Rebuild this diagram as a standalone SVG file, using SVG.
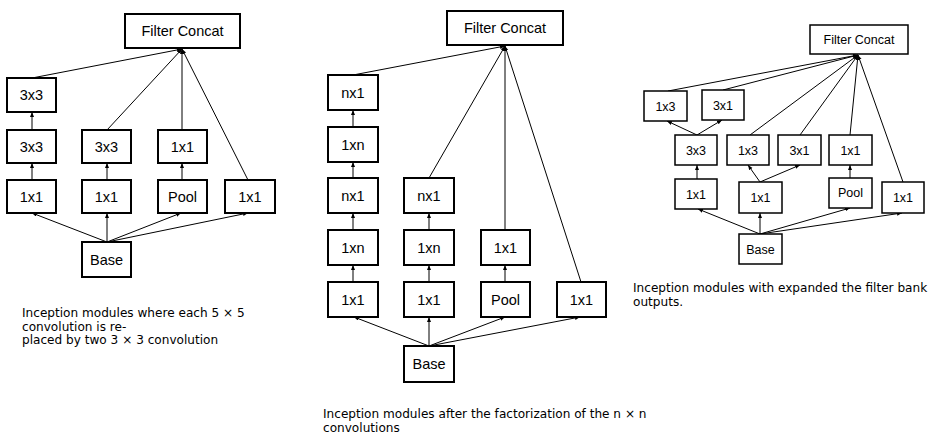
<svg xmlns="http://www.w3.org/2000/svg" width="937" height="447" viewBox="0 0 937 447">
<defs>
<marker id="ah" markerUnits="userSpaceOnUse" markerWidth="8" markerHeight="8" refX="5" refY="2" orient="auto">
<path d="M0,0 L5,2 L0,4 Z" fill="#000"/>
</marker>
<style>
.bx{fill:#fff;stroke:#000;stroke-width:2}
.bs{fill:#fff;stroke:#000;stroke-width:1.5}
.t{font-family:"Liberation Sans",Arial,sans-serif;font-size:14.5px;text-anchor:middle;fill:#000}
.ts{font-family:"Liberation Sans",Arial,sans-serif;font-size:12.5px;text-anchor:middle;fill:#000}
.cap{font-family:"DejaVu Sans",Verdana,sans-serif;font-size:12.1px;fill:#000}
.c line{stroke:#000;stroke-width:1;marker-end:url(#ah)}
</style>
</defs>
<rect width="937" height="447" fill="#fff"/>

<!-- connectors -->
<g id="connectors" class="c">
<!-- left -->
<line x1="32" y1="78" x2="182" y2="49"/>
<line x1="107" y1="130" x2="182" y2="49"/>
<line x1="182" y1="130" x2="182" y2="49"/>
<line x1="248" y1="180" x2="182" y2="49"/>
<line x1="32" y1="130" x2="32" y2="112"/>
<line x1="32" y1="180" x2="32" y2="163"/>
<line x1="107" y1="180" x2="107" y2="163"/>
<line x1="182" y1="180" x2="182" y2="163"/>
<line x1="107" y1="242" x2="32" y2="213"/>
<line x1="107" y1="242" x2="107" y2="213"/>
<line x1="107" y1="242" x2="181" y2="213"/>
<line x1="107" y1="242" x2="248" y2="213"/>
<!-- middle -->
<line x1="353" y1="75" x2="505" y2="46"/>
<line x1="429" y1="178" x2="505" y2="46"/>
<line x1="505" y1="230" x2="505" y2="46"/>
<line x1="581" y1="282" x2="505" y2="46"/>
<line x1="353" y1="127" x2="353" y2="110"/>
<line x1="353" y1="178" x2="353" y2="162"/>
<line x1="353" y1="230" x2="353" y2="213"/>
<line x1="353" y1="282" x2="353" y2="265"/>
<line x1="429" y1="230" x2="429" y2="213"/>
<line x1="429" y1="282" x2="429" y2="265"/>
<line x1="505" y1="282" x2="505" y2="265"/>
<line x1="429" y1="346" x2="354" y2="317"/>
<line x1="429" y1="346" x2="429" y2="317"/>
<line x1="429" y1="346" x2="505" y2="317"/>
<line x1="429" y1="346" x2="580" y2="317"/>
<!-- right -->
<line x1="668" y1="91" x2="858" y2="55"/>
<line x1="723" y1="90" x2="858" y2="55"/>
<line x1="750" y1="135" x2="858" y2="55"/>
<line x1="800" y1="135" x2="858" y2="55"/>
<line x1="850" y1="135" x2="858" y2="55"/>
<line x1="903" y1="182" x2="858" y2="55"/>
<line x1="697" y1="135" x2="667" y2="121"/>
<line x1="697" y1="135" x2="722" y2="120"/>
<line x1="697" y1="179" x2="697" y2="165"/>
<line x1="760" y1="182" x2="748" y2="165"/>
<line x1="760" y1="182" x2="800" y2="165"/>
<line x1="850" y1="178" x2="850" y2="165"/>
<line x1="760" y1="234" x2="698" y2="209"/>
<line x1="760" y1="234" x2="760" y2="213"/>
<line x1="760" y1="234" x2="850" y2="208"/>
<line x1="760" y1="234" x2="902" y2="213"/>
</g>

<!-- left diagram nodes -->
<g id="L_concat"><rect class="bx" x="125" y="14" width="115" height="34"/><text class="t" x="182.5" y="36">Filter Concat</text></g>
<g id="L_c1_3x3_top"><rect class="bx" x="7" y="78" width="49" height="34"/><text class="t" x="31.5" y="100">3x3</text></g>
<g id="L_c1_3x3"><rect class="bx" x="7" y="130" width="49" height="33"/><text class="t" x="31.5" y="151.5">3x3</text></g>
<g id="L_c1_1x1"><rect class="bx" x="7" y="180" width="49" height="33"/><text class="t" x="31.5" y="201.5">1x1</text></g>
<g id="L_c2_3x3"><rect class="bx" x="82" y="130" width="49" height="33"/><text class="t" x="106.5" y="151.5">3x3</text></g>
<g id="L_c2_1x1"><rect class="bx" x="82" y="180" width="49" height="33"/><text class="t" x="106.5" y="201.5">1x1</text></g>
<g id="L_c3_1x1"><rect class="bx" x="158" y="130" width="49" height="33"/><text class="t" x="182.5" y="151.5">1x1</text></g>
<g id="L_c3_pool"><rect class="bx" x="158" y="180" width="49" height="33"/><text class="t" x="182.5" y="201.5">Pool</text></g>
<g id="L_c4_1x1"><rect class="bx" x="225" y="180" width="50" height="33"/><text class="t" x="250" y="201.5">1x1</text></g>
<g id="L_base"><rect class="bx" x="82" y="242" width="49" height="35"/><text class="t" x="106.5" y="264.5">Base</text></g>

<!-- middle diagram nodes -->
<g id="M_concat"><rect class="bx" x="447" y="11" width="116" height="34"/><text class="t" x="505" y="33">Filter Concat</text></g>
<g id="M_c1_nx1_top"><rect class="bx" x="328" y="75" width="50" height="35"/><text class="t" x="353" y="97.5">nx1</text></g>
<g id="M_c1_1xn_top"><rect class="bx" x="328" y="127" width="50" height="35"/><text class="t" x="353" y="149.5">1xn</text></g>
<g id="M_c1_nx1"><rect class="bx" x="328" y="178" width="50" height="35"/><text class="t" x="353" y="200.5">nx1</text></g>
<g id="M_c1_1xn"><rect class="bx" x="328" y="230" width="50" height="35"/><text class="t" x="353" y="252.5">1xn</text></g>
<g id="M_c1_1x1"><rect class="bx" x="328" y="282" width="50" height="35"/><text class="t" x="353" y="304.5">1x1</text></g>
<g id="M_c2_nx1"><rect class="bx" x="404" y="178" width="50" height="35"/><text class="t" x="429" y="200.5">nx1</text></g>
<g id="M_c2_1xn"><rect class="bx" x="404" y="230" width="50" height="35"/><text class="t" x="429" y="252.5">1xn</text></g>
<g id="M_c2_1x1"><rect class="bx" x="404" y="282" width="50" height="35"/><text class="t" x="429" y="304.5">1x1</text></g>
<g id="M_c3_1x1"><rect class="bx" x="481" y="230" width="49" height="35"/><text class="t" x="505.5" y="252.5">1x1</text></g>
<g id="M_c3_pool"><rect class="bx" x="481" y="282" width="49" height="35"/><text class="t" x="505.5" y="304.5">Pool</text></g>
<g id="M_c4_1x1"><rect class="bx" x="557" y="282" width="49" height="35"/><text class="t" x="581.5" y="304.5">1x1</text></g>
<g id="M_base"><rect class="bx" x="404" y="346" width="50" height="36"/><text class="t" x="429" y="369">Base</text></g>

<!-- right diagram nodes -->
<g id="R_concat"><rect class="bs" x="810" y="25" width="98" height="29"/><text class="ts" x="859" y="44">Filter Concat</text></g>
<g id="R_top_1x3"><rect class="bs" x="644" y="91" width="43" height="30"/><text class="ts" x="665.5" y="110.5">1x3</text></g>
<g id="R_top_3x1"><rect class="bs" x="702" y="90" width="42" height="30"/><text class="ts" x="723" y="109.5">3x1</text></g>
<g id="R_3x3"><rect class="bs" x="675" y="135" width="42" height="30"/><text class="ts" x="696" y="154.5">3x3</text></g>
<g id="R_1x3"><rect class="bs" x="727" y="135" width="42" height="30"/><text class="ts" x="748" y="154.5">1x3</text></g>
<g id="R_3x1"><rect class="bs" x="778" y="135" width="43" height="30"/><text class="ts" x="799.5" y="154.5">3x1</text></g>
<g id="R_1x1_b"><rect class="bs" x="829" y="135" width="43" height="30"/><text class="ts" x="850.5" y="154.5">1x1</text></g>
<g id="R_c1_1x1"><rect class="bs" x="675" y="179" width="42" height="30"/><text class="ts" x="696" y="198.5">1x1</text></g>
<g id="R_c2_1x1"><rect class="bs" x="739" y="182" width="43" height="31"/><text class="ts" x="760.5" y="202">1x1</text></g>
<g id="R_pool"><rect class="bs" x="829" y="178" width="43" height="30"/><text class="ts" x="850.5" y="197">Pool</text></g>
<g id="R_c4_1x1"><rect class="bs" x="882" y="182" width="42" height="31"/><text class="ts" x="903" y="202">1x1</text></g>
<g id="R_base"><rect class="bs" x="739" y="234" width="43" height="30"/><text class="ts" x="760.5" y="253.5">Base</text></g>

<!-- captions -->
<text class="cap" x="22" y="317">Inception modules where each 5 × 5</text>
<text class="cap" x="22" y="330.5">convolution is re-</text>
<text class="cap" x="22" y="344">placed by two 3 × 3 convolution</text>
<text class="cap" x="323" y="418">Inception modules after the factorization of the n × n</text>
<text class="cap" x="323" y="432">convolutions</text>
<text class="cap" x="633" y="292">Inception modules with expanded the filter bank</text>
<text class="cap" x="633" y="306">outputs.</text>
</svg>
